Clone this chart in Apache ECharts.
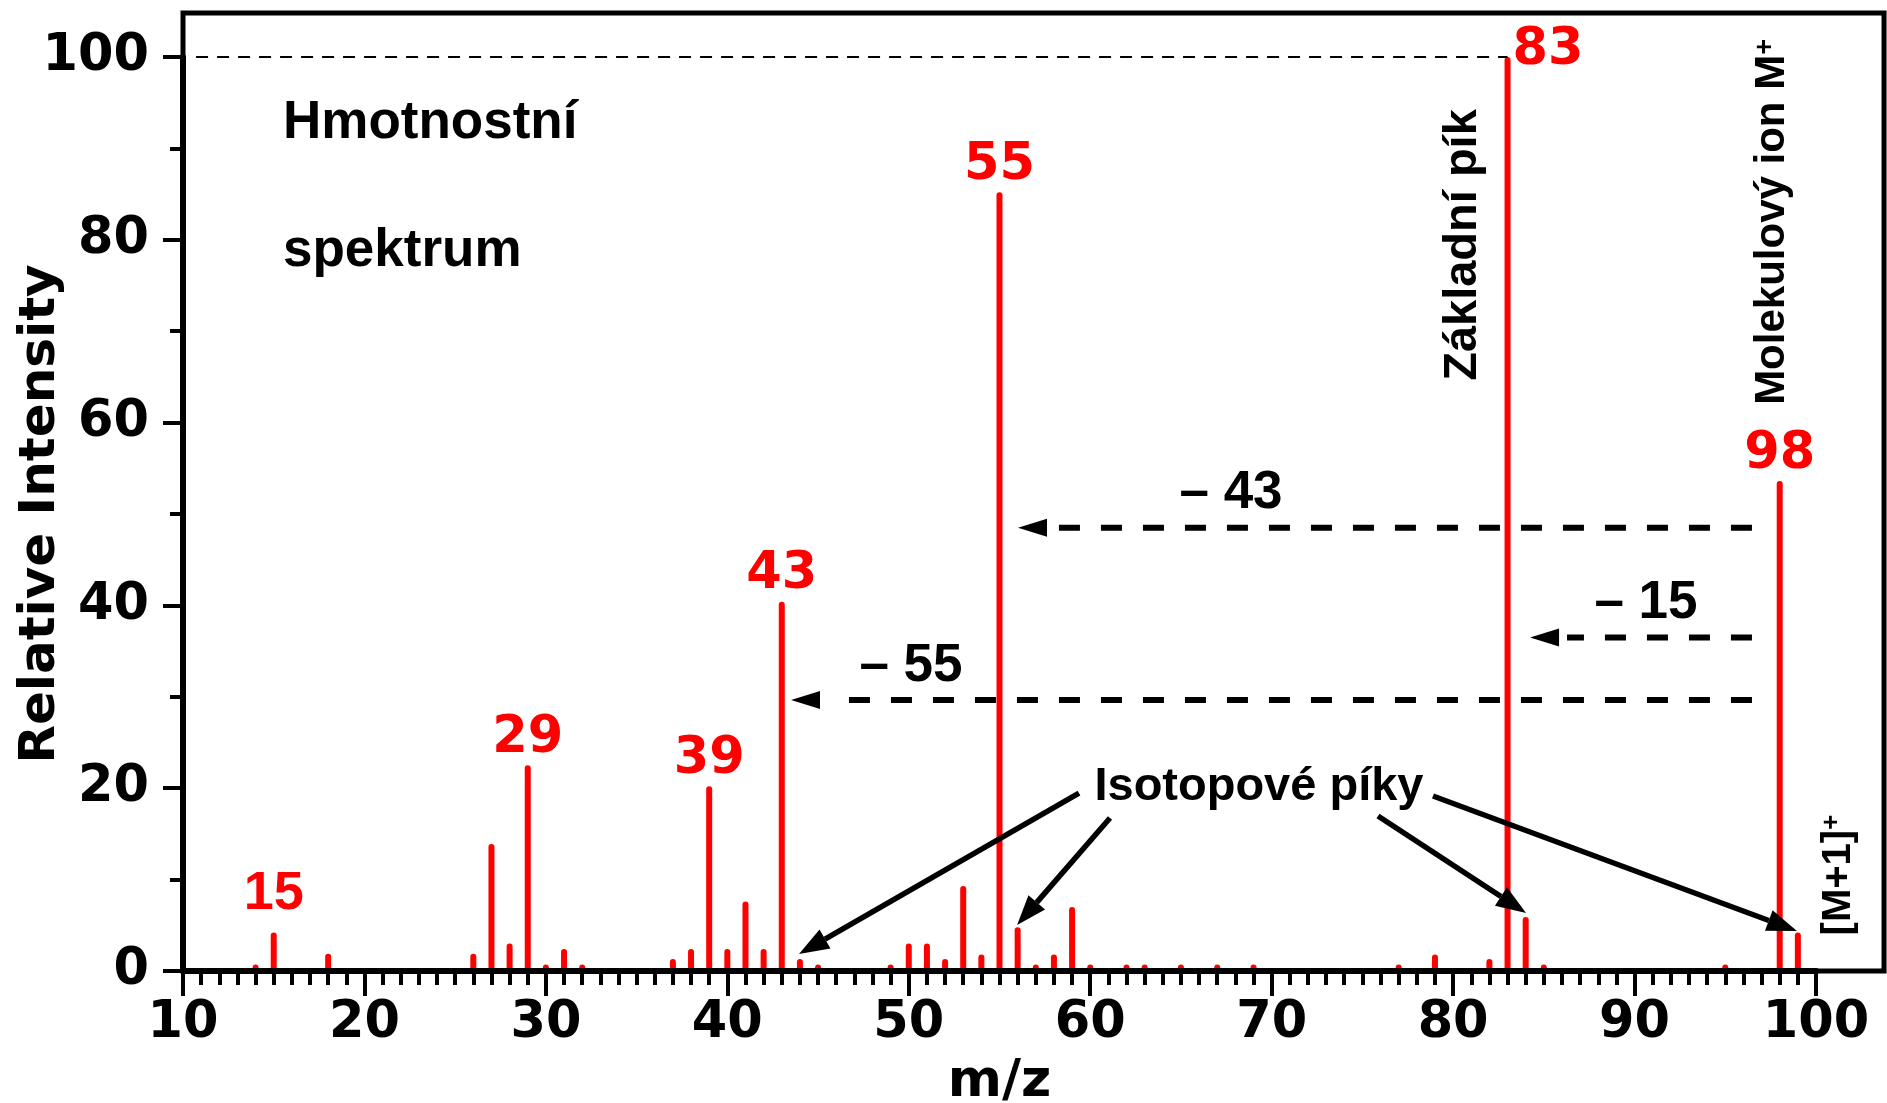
<!DOCTYPE html>
<html>
<head>
<meta charset="utf-8">
<title>Hmotnostní spektrum</title>
<script src="https://cdn.jsdelivr.net/npm/echarts@6/dist/echarts.min.js"></script>
<style>
  html, body { margin: 0; padding: 0; background: #ffffff; }
  #chart { width: 1887px; height: 1103px; }
</style>
</head>
<body>
<div id="chart"></div>
<script>
// Fragment peaks: m/z and relative intensity (% of the base peak)
const massToCharge = [14, 15, 18, 26, 27, 28, 29, 30, 31, 32, 37, 38, 39, 40, 41, 42, 43, 44, 45,
  49, 50, 51, 52, 53, 54, 55, 56, 57, 58, 59, 60, 62, 63, 65, 67, 69, 77, 79, 82, 83, 84, 85, 95, 98, 99];
const relIntensity = [0.7, 4.2, 1.9, 1.9, 13.9, 3.0, 22.5, 0.7, 2.4, 0.7, 1.3, 2.4, 20.2, 2.4, 7.6, 2.4, 40.4, 1.3, 0.7,
  0.7, 3.0, 3.0, 1.3, 9.3, 1.8, 85.2, 4.8, 0.7, 1.8, 7.0, 0.7, 0.7, 0.7, 0.7, 0.7, 0.7, 0.7, 1.8, 1.3, 100, 5.9, 0.7, 0.7, 53.6, 4.2];

// Peaks that carry their m/z as a label
const labelledPeaks = [29, 39, 43, 55, 98];
const basePeak = 83;
const methylPeak = 15;

// Axis ranges and tick steps
const xRange = [10, 100];
const xStep = 10;
const yRange = [0, 100];
const yStep = 20;

const RED = '#ff0000';
const TICK_FONT = 'DejaVu Sans';
const NOTE_FONT = '"Liberation Sans", Arial, sans-serif';

const peakData = massToCharge.map((m, i) => {
  const item = { value: [m, relIntensity[i]] };
  if (labelledPeaks.includes(m)) {
    item.label = { show: true, position: 'top', distance: 1 };
  } else if (m === basePeak) {
    item.label = { show: true, position: [8, -6], align: 'left', verticalAlign: 'middle' };
  } else if (m === methylPeak) {
    item.label = { show: true, position: 'top', distance: 12, fontFamily: NOTE_FONT, fontSize: 54, fontWeight: 'bold' };
  }
  return item;
});

const axisTextStyle = { color: '#000', fontFamily: TICK_FONT, fontWeight: 'bold', fontSize: 51 };

const option = {
  animation: false,
  backgroundColor: '#ffffff',
  grid: { left: 183, right: 71, top: 57, bottom: 132, containLabel: false, outerBoundsMode: 'none' },
  xAxis: {
    type: 'value', min: xRange[0], max: xRange[1], interval: xStep, z: 3,
    axisLine: { show: true, lineStyle: { color: '#000', width: 6 } },
    axisTick: { show: true, length: 25, lineStyle: { color: '#000', width: 4 } },
    minorTick: { show: true, splitNumber: 10, length: 14, lineStyle: { color: '#000', width: 4 } },
    splitLine: { show: false },
    axisLabel: Object.assign({ margin: 27 }, axisTextStyle),
    name: 'm/z', nameLocation: 'middle', nameGap: 85, nameMoveOverlap: false,
    nameTextStyle: { color: '#000', fontFamily: TICK_FONT, fontWeight: 'bold', fontSize: 52 }
  },
  yAxis: {
    type: 'value', min: yRange[0], max: yRange[1], interval: yStep, z: 3,
    axisLine: { show: true, lineStyle: { color: '#000', width: 6 } },
    axisTick: { show: true, length: 20, lineStyle: { color: '#000', width: 4 } },
    minorTick: { show: true, splitNumber: 2, length: 13, lineStyle: { color: '#000', width: 4 } },
    splitLine: { show: false },
    axisLabel: Object.assign({ margin: 34 }, axisTextStyle),
    name: 'Relative Intensity', nameLocation: 'middle', nameRotate: 90, nameGap: 117, nameMoveOverlap: false,
    nameTextStyle: { color: '#000', fontFamily: TICK_FONT, fontWeight: 'bold', fontSize: 50 }
  },
  series: [{
    type: 'bar',
    data: peakData,
    barWidth: 6,
    silent: true,
    itemStyle: { color: RED, borderRadius: [3, 3, 0, 0] },
    label: {
      show: false, color: RED, fontFamily: TICK_FONT, fontWeight: 'bold', fontSize: 51,
      formatter: p => String(p.value[0])
    },
    markLine: {
      silent: true, symbol: 'none', label: { show: false },
      lineStyle: { color: '#000', width: 2, type: [12, 9] },
      data: [[{ coord: [10.72, 100] }, { coord: [basePeak, 100] }]]
    }
  }]
};

const chart = echarts.init(document.getElementById('chart'), null, { renderer: 'canvas' });
chart.setOption(option);

// ---- annotations, placed in data space (m/z, intensity) ----
const toPx = (x, y) => chart.convertToPixel({ gridIndex: 0 }, [x, y]);

// neutral losses from the molecular ion: dashed arrows
const lossArrows = [
  { text: '– 43', from: [96.47, 48.5], to: [56.02, 48.5], textAt: [67.76, 52.23] },
  { text: '– 15', from: [96.47, 36.5], to: [84.24, 36.5], textAt: [90.63, 40.2] },
  { text: '– 55', from: [96.47, 29.65], to: [43.51, 29.65], textAt: [50.12, 33.3] }
];
// isotope peaks pointed at from the caption
const isotopeArrows = [
  { from: [59.38, 19.47], to: [43.95, 1.86] },
  { from: [61.09, 16.74], to: [55.97, 5.03] },
  { from: [75.86, 16.96], to: [84.02, 6.35] },
  { from: [78.89, 19.15], to: [98.95, 4.38] }
];

function arrow(from, to, opt) {
  const a = toPx(from[0], from[1]);
  const b = toPx(to[0], to[1]);
  const dx = b[0] - a[0], dy = b[1] - a[1];
  const len = Math.hypot(dx, dy);
  const ux = dx / len, uy = dy / len;
  const base = [b[0] - ux * opt.head, b[1] - uy * opt.head];
  const nx = -uy, ny = ux;
  return [
    {
      type: 'line', silent: true, z: 10,
      shape: { x1: a[0], y1: a[1], x2: base[0] - ux * (opt.gap || 0), y2: base[1] - uy * (opt.gap || 0) },
      style: { stroke: '#000', lineWidth: opt.width, lineDash: opt.dash || null, lineCap: 'butt' }
    },
    {
      type: 'polygon', silent: true, z: 10,
      shape: { points: [b, [base[0] + nx * opt.half, base[1] + ny * opt.half], [base[0] - nx * opt.half, base[1] - ny * opt.half]] },
      style: { fill: '#000' }
    }
  ];
}

function note(text, at, size, extra) {
  const p = toPx(at[0], at[1]);
  return Object.assign({
    type: 'text', silent: true, z: 11, x: p[0], y: p[1],
    style: Object.assign({
      text: text, fill: '#000', fontFamily: NOTE_FONT, fontWeight: 'bold', fontSize: size,
      align: 'center', verticalAlign: 'middle'
    }, (extra && extra.style) || {})
  }, (extra && extra.el) || {});
}

const graphics = [];

// plot frame
const c0 = toPx(10, 0), c1 = toPx(103.75, 104.81);
graphics.push({
  type: 'rect', silent: true, z: 1,
  shape: { x: c0[0], y: c1[1], width: c1[0] - c0[0], height: c0[1] - c1[1] },
  style: { fill: 'none', stroke: '#000', lineWidth: 5 }
});

lossArrows.forEach(d => {
  graphics.push(...arrow(d.from, d.to, { width: 6, head: 29, half: 9, dash: [21, 21], gap: 8 }));
  graphics.push(note(d.text, d.textAt, 53));
});
isotopeArrows.forEach(d => {
  graphics.push(...arrow(d.from, d.to, { width: 5.5, head: 30, half: 11 }));
});

graphics.push(note('Hmotnostní', [15.51, 92.71], 53, { style: { align: 'left' } }));
graphics.push(note('spektrum', [15.51, 78.71], 53, { style: { align: 'left' } }));
graphics.push(note('Isotopové píky', [69.3, 20.09], 47));
graphics.push(note('Základní pík', [80.55, 79.43], 47, { el: { rotation: Math.PI / 2 } }));
graphics.push(note('', [97.61, 81.95], 42, {
  el: { rotation: Math.PI / 2 },
  style: {
    text: '{a|Molekulový ion M}{s|+}',
    rich: {
      a: { fontFamily: NOTE_FONT, fontWeight: 'bold', fontSize: 42, fill: '#000' },
      s: { fontFamily: NOTE_FONT, fontWeight: 'bold', fontSize: 27, fill: '#000', verticalAlign: 'top' }
    }
  }
}));
graphics.push(note('', [101.25, 10.5], 40, {
  el: { rotation: Math.PI / 2 },
  style: {
    text: '{a|[M+1]}{s|+}',
    rich: {
      a: { fontFamily: NOTE_FONT, fontWeight: 'bold', fontSize: 40, fill: '#000' },
      s: { fontFamily: NOTE_FONT, fontWeight: 'bold', fontSize: 26, fill: '#000', verticalAlign: 'top' }
    }
  }
}));

chart.setOption({ graphic: graphics });
</script>
</body>
</html>
